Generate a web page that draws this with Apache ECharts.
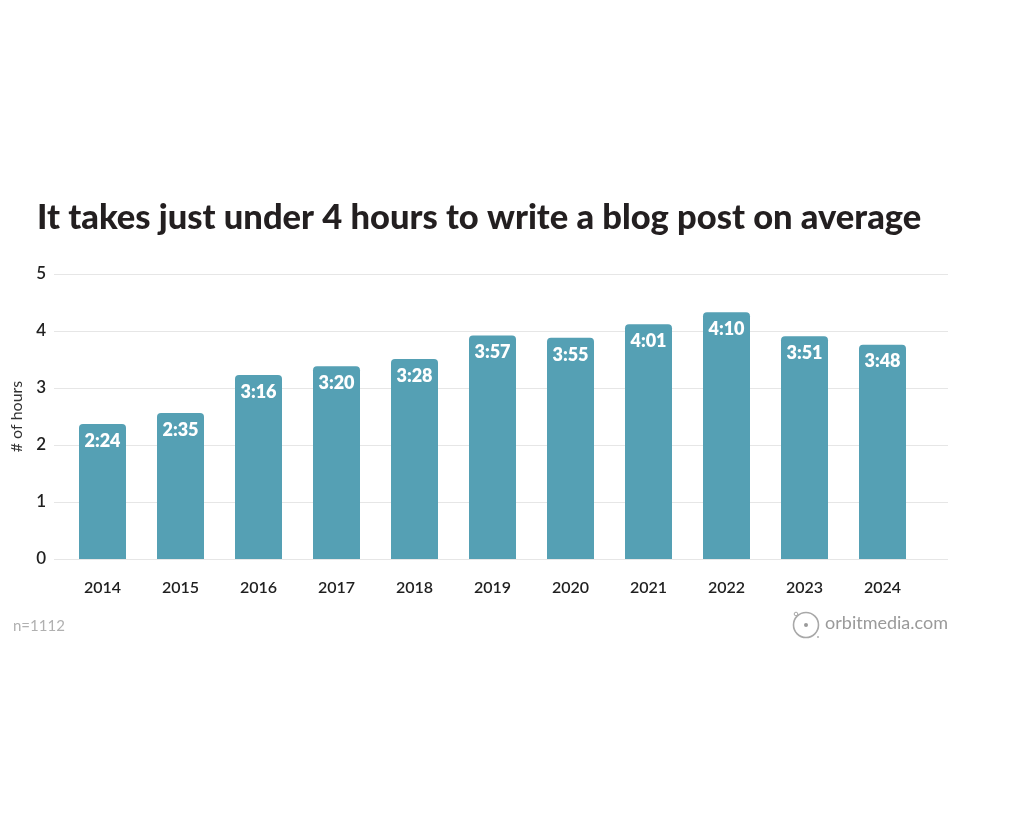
<!DOCTYPE html>
<html>
	<head>
        <meta charset="utf-8" />
		<title>blog post hours</title>
        <script src="https://cdn.jsdelivr.net/npm/echarts@6/dist/echarts.min.js"></script>
        <style>
          html, body { margin: 0; padding: 0; background: #fff; }
        </style>
	</head>
	<body>

       <div id="main" style="width:1024px;height:820px"></div>

    <script>
      // survey years
      var years = ['2014', '2015', '2016', '2017', '2018', '2019', '2020', '2021', '2022', '2023', '2024'];
      // bar heights (hours)
      var hours = [2.37, 2.56, 3.23, 3.38, 3.51, 3.92, 3.88, 4.12, 4.33, 3.91, 3.76];
      // labels printed on the bars (h:mm)
      var timeLabels = ['2:24', '2:35', '3:16', '3:20', '3:28', '3:57', '3:55', '4:01', '4:10', '3:51', '3:48'];
      var yTicks = [0, 1, 2, 3, 4, 5];

      var barColor = '#55a0b4';
      var fontFamily = 'Lato, "Open Sans", sans-serif';

      var myChart = echarts.init(document.getElementById('main'), null, { renderer: 'canvas' });

      var option = {
          backgroundColor: '#ffffff',
          animation: false,
          title: {
              text: 'It takes just under 4 hours to write a blog post on average',
              left: 32,
              top: 195,
              textStyle: {
                  fontFamily: fontFamily,
                  fontSize: 34.5,
                  fontWeight: 900,
                  color: '#231f20'
              }
          },
          grid: [
              // wide grid: only carries the gridlines and y labels
              { left: 54, right: 76, top: 274, bottom: 261 },
              // bar grid
              { left: 63.5, right: 102.5, top: 274, bottom: 261 }
          ],
          xAxis: [
              {
                  gridIndex: 0,
                  type: 'category',
                  data: years,
                  show: false
              },
              {
                  gridIndex: 1,
                  type: 'category',
                  data: years,
                  axisLine: { show: false },
                  axisTick: { show: false },
                  axisLabel: {
                      margin: 21,
                      fontFamily: fontFamily,
                      fontSize: 16,
                      fontWeight: 600,
                      color: '#1f1f1f'
                  }
              }
          ],
          yAxis: [
              {
                  gridIndex: 0,
                  type: 'value',
                  min: yTicks[0],
                  max: yTicks[yTicks.length - 1],
                  interval: 1,
                  name: '# of hours',
                  nameLocation: 'middle',
                  nameGap: 29,
                  nameRotate: 90,
                  nameTextStyle: {
                      fontFamily: fontFamily,
                      fontSize: 16,
                      color: '#333333'
                  },
                  axisLine: { show: false },
                  axisTick: { show: false },
                  axisLabel: {
                      margin: 8,
                      fontFamily: fontFamily,
                      fontSize: 17,
                      fontWeight: 600,
                      color: '#1f1f1f'
                  },
                  splitLine: {
                      lineStyle: { color: '#e6e6e6', width: 1 }
                  }
              },
              {
                  gridIndex: 1,
                  type: 'value',
                  min: yTicks[0],
                  max: yTicks[yTicks.length - 1],
                  interval: 1,
                  show: false,
                  splitLine: { show: false }
              }
          ],
          graphic: [
              {
                  type: 'text',
                  left: 13,
                  top: 619,
                  style: {
                      text: 'n=1112',
                      font: '15px ' + fontFamily,
                      fill: '#b0b0b0'
                  }
              },
              {
                  type: 'text',
                  right: 76,
                  top: 614,
                  style: {
                      text: 'orbitmedia.com',
                      font: '18px ' + fontFamily,
                      fill: '#9a9a9a'
                  }
              },
              {
                  type: 'circle',
                  shape: { cx: 806, cy: 625, r: 12.5 },
                  style: { fill: 'none', stroke: '#a8a8a8', lineWidth: 1.6 }
              },
              {
                  type: 'circle',
                  shape: { cx: 806, cy: 625, r: 2 },
                  style: { fill: '#9a9a9a' }
              },
              {
                  type: 'circle',
                  shape: { cx: 796, cy: 614, r: 1.8 },
                  style: { fill: '#ffffff', stroke: '#a8a8a8', lineWidth: 1 }
              },
              {
                  type: 'circle',
                  shape: { cx: 818, cy: 637, r: 1 },
                  style: { fill: '#b0b0b0' }
              }
          ],
          series: [
              {
                  type: 'bar',
                  xAxisIndex: 1,
                  yAxisIndex: 1,
                  data: hours,
                  barWidth: 47,
                  itemStyle: {
                      color: barColor,
                      borderRadius: [4, 4, 0, 0]
                  },
                  label: {
                      show: true,
                      position: 'insideTop',
                      distance: 8,
                      formatter: function (p) { return timeLabels[p.dataIndex]; },
                      fontFamily: fontFamily,
                      fontSize: 18,
                      fontWeight: 800,
                      color: '#ffffff'
                  }
              }
          ]
      };

      myChart.setOption(option);
    </script>
	</body>
</html>
